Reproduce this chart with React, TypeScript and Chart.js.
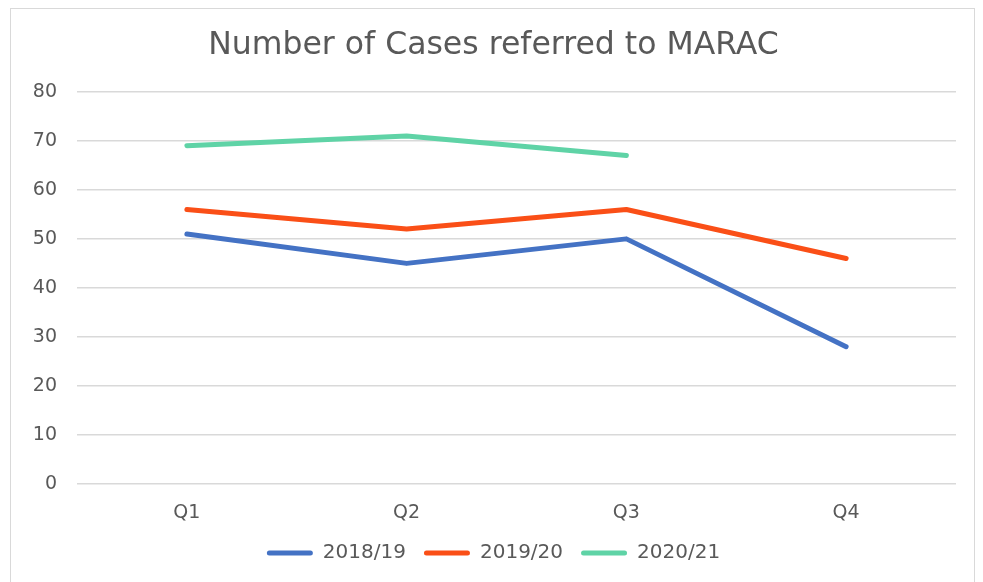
import React, { useEffect, useRef } from "react";
import { Chart, registerables } from "chart.js";

Chart.register(...registerables);

const categories = ["Q1", "Q2", "Q3", "Q4"];
const series2018 = [51, 45, 50, 28];
const series2019 = [56, 52, 56, 46];
const series2020 = [69, 71, 67, null];
const seriesLabels = ["2018/19", "2019/20", "2020/21"];
const seriesColors = ["#4472C4", "#FA4F17", "#5FD3A6"];
const chartTitle = "Number of Cases referred to MARAC";

const FONT = "'DejaVu Sans', Verdana, sans-serif";
const TEXT = "#595959";

export default function App() {
  const ref = useRef<HTMLCanvasElement | null>(null);
  useEffect(() => {
    if (!ref.current) return;
    const data = [series2018, series2019, series2020];
    const chart = new Chart(ref.current, {
      type: "line",
      data: {
        labels: categories,
        datasets: data.map((d, i) => ({
          label: seriesLabels[i],
          data: d,
          borderColor: seriesColors[i],
          backgroundColor: seriesColors[i],
          borderWidth: 5,
          borderCapStyle: "round",
          borderJoinStyle: "round",
          pointRadius: 0,
          pointHoverRadius: 0,
          tension: 0,
          spanGaps: false,
        })),
      },
      options: {
        responsive: false,
        animation: false,
        layout: { padding: { left: 20, right: 18, top: 0, bottom: 16 } },
        plugins: {
          tooltip: { enabled: false },
          title: {
            display: true,
            text: chartTitle,
            color: TEXT,
            font: { family: FONT, size: 31.5, weight: "normal" },
            padding: { top: 18, bottom: 27 },
          },
          legend: {
            position: "bottom",
            labels: {
              color: TEXT,
              font: { family: FONT, size: 20 },
              boxWidth: 46,
              boxHeight: 5,
              padding: 18,
              useBorderRadius: true,
              borderRadius: 2.5,
              generateLabels: (c: any) =>
                c.data.datasets.map((ds: any, i: number) => ({
                  text: ds.label,
                  fillStyle: ds.borderColor,
                  strokeStyle: ds.borderColor,
                  lineWidth: 0,
                  fontColor: TEXT,
                  hidden: false,
                  datasetIndex: i,
                  borderRadius: 2.5,
                })),
            },
          },
        },
        scales: {
          x: {
            offset: true,
            grid: { display: false, drawTicks: false },
            border: { display: false },
            ticks: { color: TEXT, font: { family: FONT, size: 19 }, padding: 18 },
            afterFit: (s: any) => {
              s.height = 41;
            },
          },
          y: {
            min: 0,
            max: 80,
            grid: { color: "#D9D9D9", lineWidth: 1.5, drawTicks: false },
            border: { display: false },
            ticks: { stepSize: 10, color: TEXT, font: { family: FONT, size: 19 }, padding: 20 },
            afterFit: (s: any) => {
              s.width = 46;
            },
          },
        },
      },
    });
    return () => chart.destroy();
  }, []);
  return (
    <div
      style={{
        marginLeft: 2,
        width: 963,
        height: 580,
        border: "1px solid #D9D9D9",
        background: "#fff",
      }}
    >
      <canvas ref={ref} width={963} height={580} style={{ display: "block" }} />
    </div>
  );
}
